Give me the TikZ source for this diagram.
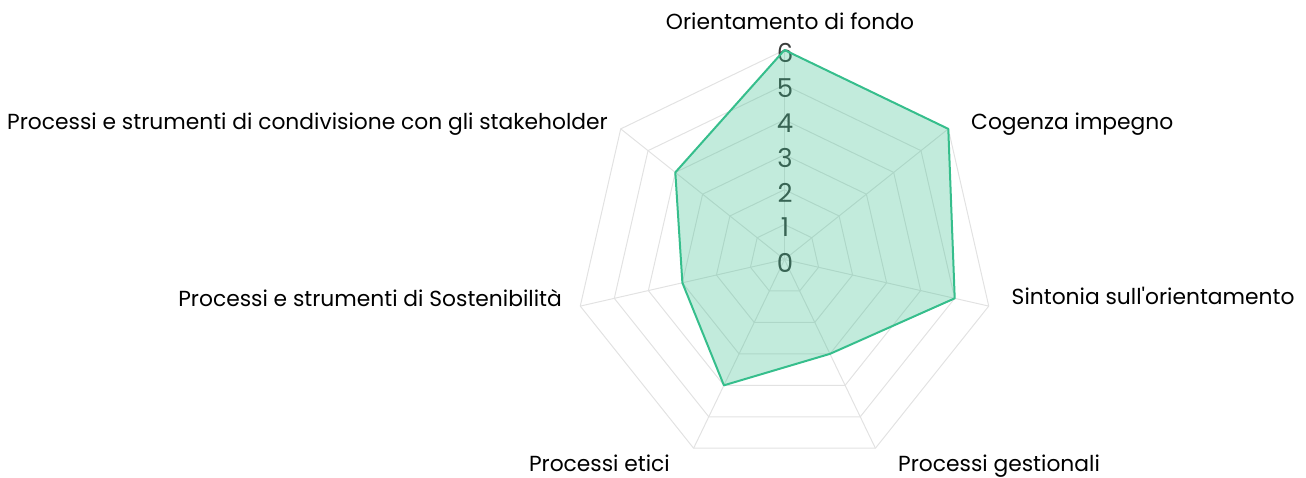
\documentclass[tikz,border=0pt]{standalone}
\usepackage{fontspec}
\setmainfont{Poppins}
\definecolor{gridc}{RGB}{226,226,226}
\definecolor{series}{RGB}{54,190,140}
\definecolor{tickc}{RGB}{58,62,60}
\begin{document}
\begin{tikzpicture}[x=1pt,y=1pt,
  lbl/.style={font=\fontsize{21.8}{26}\selectfont, text=black, inner sep=0pt},
  ticklbl/.style={font=\fontsize{26}{30}\selectfont, text=tickc, inner sep=0pt},
  gridline/.style={draw=gridc, line width=1pt, line join=round}]
\useasboundingbox (0,0) rectangle (1306,478);
\def\R{209.5}
\begin{scope}[shift={(784.5,218.5)}]
  \coordinate (c) at (0,0);
  % rings
  \foreach \k in {1,...,6}{
    \draw[gridline] (90:\k*\R/6) \foreach \i in {1,...,6}{ -- (90-\i*360/7:\k*\R/6)} -- cycle;
  }
  % spokes
  \foreach \i in {0,...,6}{
    \coordinate (a\i) at (90-\i*360/7:\R);
    \draw[gridline] (c) -- (a\i);
  }
  % tick labels
  \foreach \k in {0,...,6}{
    \node[ticklbl] (t\k) at (0.5,\k*\R/6-3) {\k};
  }
  % data
  \coordinate (d0) at (90:6*\R/6);
  \coordinate (d1) at (90-1*360/7:6*\R/6);
  \coordinate (d2) at (90-2*360/7:5*\R/6);
  \coordinate (d3) at (90-3*360/7:3*\R/6);
  \coordinate (d4) at (90-4*360/7:4*\R/6);
  \coordinate (d5) at (90-5*360/7:3*\R/6);
  \coordinate (d6) at (90-6*360/7:4*\R/6);
  \fill[series, fill opacity=0.3] (d0) -- (d1) -- (d2) -- (d3) -- (d4) -- (d5) -- (d6) -- cycle;
  \draw[series, line width=2pt, line join=round] (d0) -- (d1) -- (d2) -- (d3) -- (d4) -- (d5) -- (d6) -- cycle;
\end{scope}
% axis labels
\node[lbl, anchor=base] (l0) at (790,448) {Orientamento di fondo};
\node[lbl, anchor=base west] (l1) at (971,348.7) {Cogenza impegno};
\begin{scope}
  \clip (0,0) rectangle (1294,478);
  \node[lbl, anchor=base west] (l2) at (1011.5,173) {Sintonia sull\textquotesingle orientamento};
\end{scope}
\node[lbl, anchor=base west] (l3) at (898,6) {Processi gestionali};
\node[lbl, anchor=base east] (l4) at (670,6) {Processi etici};
\node[lbl, anchor=base east] (l5) at (562,171) {Processi e strumenti di Sostenibilità};
\node[lbl, anchor=base east] (l6) at (608,348) {Processi e strumenti di condivisione con gli stakeholder};
\end{tikzpicture}
\end{document}
